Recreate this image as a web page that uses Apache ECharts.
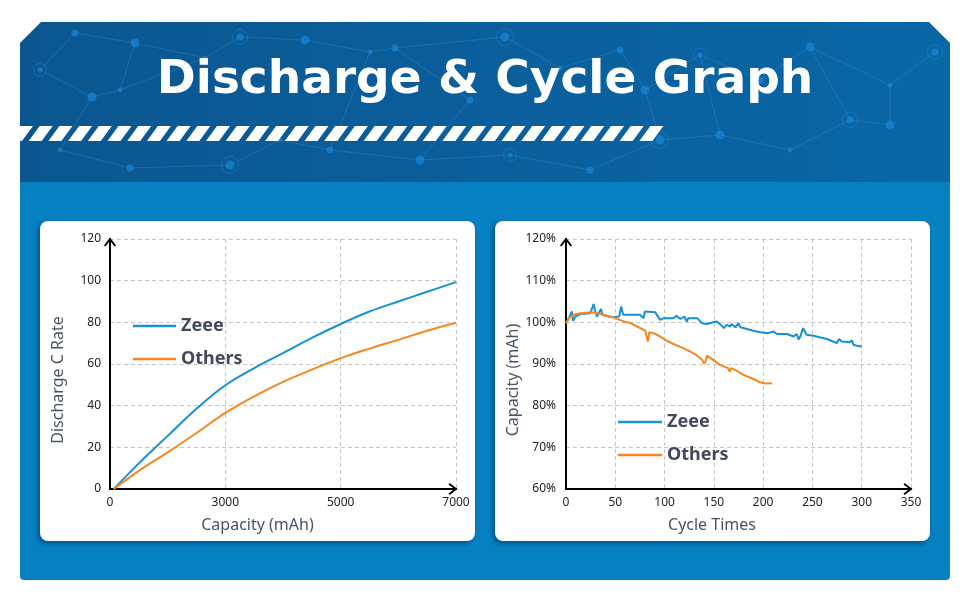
<!DOCTYPE html>
<html>
<head>
<meta charset="utf-8">
<script src="https://cdn.jsdelivr.net/npm/echarts@6/dist/echarts.min.js"></script>
<style>
html,body{margin:0;padding:0;background:#fff;}
#c{width:970px;height:600px;}
</style>
</head>
<body>
<div id="c"></div>
<script>
// ---------- data ----------
const titleText = 'Discharge & Cycle Graph';
const seriesNames = ['Zeee', 'Others'];

// Left chart: discharge C rate vs capacity (tick labels are equally spaced)
const capacityTickLabels = ['0', '3000', '5000', '7000'];
const dischargeCapacity = [100, 750, 1500, 2250, 3000, 3500, 4000, 4500, 5000, 5500, 6000, 6500, 7000];
const zeeeRate   = [0, 12.3, 25.5, 38.5, 49.8, 58, 65.2, 72.5, 79.2, 85.2, 90, 94.7, 99.3];
const othersRate = [0, 8.7, 17.6, 26.9, 36.5, 44.5, 51.4, 57.3, 62.8, 67.4, 71.6, 76, 79.8];

// Right chart: capacity retention vs cycles
const zeeeCycles = [0,2,4,6,7,9.5,14.5,24.7,28,29.5,31.4,33,35.5,37,43,48,54,56,58,75,78.7,80,90.5,95.6,97,99,109,112,116,120,122.6,124,133,138,143,149.3,153,158,160,163,166.6,168,172,175,177,183.5,190,197,205,210.5,214,224,231,234,236,238,240.5,242,244,251,264.5,271,274.7,277,279.6,288,290,291.6,295,300];
const zeeeCapacity = [100,100.5,100.1,102.6,100.4,101.4,102,102.2,104.4,102.8,101.4,101.8,103.2,101.8,101.4,101.2,101.4,103.8,101.8,101.8,101,102.6,102.4,100.6,100.2,101,101,101.6,100.8,101.4,100.2,101,101,99.8,99.6,100,100.2,99.2,98.6,99.4,99,99.6,98.8,99.8,98.8,98.4,98,97.6,97.4,97.8,97.2,97.2,96.6,97.2,95.9,96.8,98.6,98.6,97,96.8,96,95.4,95,96,95.4,95.2,95.7,94.6,94.4,94.2];
const othersCycles = [0,2.7,7.8,14.5,26,28,31.4,34.8,41.5,48,56.7,61.8,63.5,65,72,80.4,82,83,84.5,89,95.6,100.7,109,119,126,133,138,140,141.5,143,149.3,156,164.5,166,167.5,173,180,190,197,202,209];
const othersCapacity = [99.8,101,101.8,102.2,102.4,102.6,102.2,102,101.6,101.2,100.4,100,99.6,99.9,99,98,97.8,95.4,97.6,97.4,96.6,95.8,94.8,93.8,93,92,91,90.1,90.6,92,91,89.8,89,88.2,89,88.4,87.4,86.4,85.6,85.3,85.4];

// ---------- helpers ----------
function capToPos(c) { return c <= 3000 ? c / 3000 : 1 + (c - 3000) / 2000; }
function zip(xs, ys, fx) { return xs.map((x, i) => [fx ? fx(x) : x, ys[i]]); }

const BLUE = '#1a8fd3', ORANGE = '#f6861f';
const AXIS_TXT = '#4b5366';
const chevron = 'path://M0,8.4 L6.5,0 L13,8.4 L11.3,9.6 L6.5,3.3 L1.7,9.6 Z';

// ---------- decorative graphics ----------
const gfx = [];
gfx.push({type:'rect', z:-20, shape:{x:0,y:0,width:970,height:600}, style:{fill:'#ffffff'}});
gfx.push({type:'rect', z:-19, shape:{x:20,y:150,width:930,height:430,r:[0,0,4,4]}, style:{fill:'#0680c0'}});
gfx.push({type:'polygon', z:-18, shape:{points:[[20,43],[41,22],[929,22],[950,43],[950,182],[20,182]]},
  style:{fill:{type:'linear',x:0,y:0,x2:1,y2:0,colorStops:[{offset:0,color:'#0b5690'},{offset:1,color:'#0a67a6'}]}}});
// network lines & nodes
const nodes = [[40,70],[75,33],[135,43],[205,58],[240,37],[305,40],[370,52],[395,48],[505,37],[560,68],[620,50],[645,90],[700,55],[760,80],[810,47],[890,85],[935,52],[92,97],[60,150],[130,168],[230,165],[280,140],[330,150],[420,160],[510,155],[590,170],[720,135],[790,150],[850,120],[890,125],[120,90],[470,100],[660,140]];
const links = [[0,1],[1,2],[2,3],[3,4],[4,5],[5,6],[6,7],[7,8],[8,9],[9,10],[10,11],[11,12],[12,13],[13,14],[14,15],[15,16],[0,17],[17,18],[18,19],[19,20],[20,21],[21,22],[22,23],[23,24],[24,25],[25,32],[32,26],[26,27],[27,28],[28,29],[29,15],[2,30],[30,17],[31,7],[31,23],[12,26],[14,28],[11,32],[6,22],[3,30]];
links.forEach(l => {
  const a = nodes[l[0]], b = nodes[l[1]];
  gfx.push({type:'line', z:-17, shape:{x1:a[0],y1:a[1],x2:b[0],y2:b[1]}, style:{stroke:'rgba(90,170,235,0.22)', lineWidth:1}});
});
nodes.forEach((n, i) => {
  const r = 2.5 + (i % 3);
  if (i % 4 === 0) gfx.push({type:'circle', z:-17, shape:{cx:n[0],cy:n[1],r:r+4}, style:{fill:'none', stroke:'rgba(40,150,230,0.35)', lineWidth:1}});
  gfx.push({type:'circle', z:-17, shape:{cx:n[0],cy:n[1],r:r}, style:{fill:'rgba(25,140,225,0.6)'}});
});
// stripes
for (let i = 0; i < 34; i++) {
  const x0 = 9 + i * 19.7;
  if (x0 + 24 > 669) break;
  const pts = [[Math.max(x0, 20), 141], [x0 + 11, 126], [x0 + 24, 126], [x0 + 13, 141]];
  if (x0 < 20) pts.splice(1, 0, [20, 141 - 15 * (20 - x0) / 11]);
  gfx.push({type:'polygon', z:-16, shape:{points:pts}, style:{fill:'#ffffff'}});
}
// cards
[[40,221],[495,221]].forEach(p => {
  gfx.push({type:'rect', z:-15, shape:{x:p[0],y:p[1],width:435,height:320,r:8},
    style:{fill:'#ffffff', shadowBlur:5, shadowColor:'rgba(0,35,80,0.55)', shadowOffsetX:-2, shadowOffsetY:2}});
});

// ---------- axes ----------
function axisCommon() {
  return {
    z: 5,
    axisLine: {show:true, symbol:['none', chevron], symbolSize:[13, 9], symbolOffset:[0, -3], lineStyle:{color:'#000', width:2}},
    axisTick: {show:false},
    splitLine: {show:true, lineStyle:{color:'#c6c6c6', type:[4,3], width:1}},
    axisLabel: {color:'#222', fontFamily:'Noto Sans', fontSize:12},
    nameTextStyle: {color:AXIS_TXT, fontFamily:'Noto Sans', fontSize:16}
  };
}

const legendText = {color:'#414a5b', fontFamily:'Noto Sans', fontWeight:'bold', fontSize:18, lineHeight:20};

const option = {
  animation: false,
  graphic: gfx,
  title: {
    text: titleText, left: 'center', top: 57, padding: 0,
    textStyle: {color:'#ffffff', fontFamily:'DejaVu Sans', fontWeight:'bold', fontSize:47}
  },
  legend: [
    {data: seriesNames, orient:'vertical', left:133, top:316, padding:0, icon:'rect', itemWidth:43, itemHeight:2.5, itemGap:13,
     selectedMode:false, z:6, textStyle:legendText},
    {data: seriesNames, orient:'vertical', left:618, top:412, padding:0, icon:'rect', itemWidth:44, itemHeight:2.5, itemGap:13,
     selectedMode:false, z:6, textStyle:legendText}
  ],
  grid: [
    {left:110, top:239, width:346, height:250},
    {left:566, top:239, width:345, height:250}
  ],
  xAxis: [
    Object.assign(axisCommon(), {
      type:'value', gridIndex:0, min:0, max:3, interval:1,
      name:'Capacity (mAh)', nameLocation:'middle', nameGap:28,
      axisLabel:{color:'#222', fontFamily:'Noto Sans', fontSize:12, margin:8,
        formatter: v => capacityTickLabels[Math.round(v)] || ''}
    }),
    Object.assign(axisCommon(), {
      type:'value', gridIndex:1, min:0, max:350, interval:50,
      name:'Cycle Times', nameLocation:'middle', nameGap:28,
      axisLabel:{color:'#222', fontFamily:'Noto Sans', fontSize:12, margin:8}
    })
  ],
  yAxis: [
    Object.assign(axisCommon(), {
      type:'value', gridIndex:0, min:0, max:120, interval:20,
      name:'Discharge C Rate', nameLocation:'middle', nameGap:44,
      axisLabel:{color:'#222', fontFamily:'Noto Sans', fontSize:12, margin:9}
    }),
    Object.assign(axisCommon(), {
      type:'value', gridIndex:1, min:60, max:120, interval:10,
      name:'Capacity (mAh)', nameLocation:'middle', nameGap:42,
      axisLabel:{color:'#222', fontFamily:'Noto Sans', fontSize:12, margin:10, formatter:'{value}%'}
    })
  ],
  series: [
    {name:'Zeee', type:'line', xAxisIndex:0, yAxisIndex:0, smooth:0.4, showSymbol:false, z:6,
     lineStyle:{color:BLUE, width:2}, itemStyle:{color:BLUE}, data: zip(dischargeCapacity, zeeeRate, capToPos)},
    {name:'Others', type:'line', xAxisIndex:0, yAxisIndex:0, smooth:0.4, showSymbol:false, z:6,
     lineStyle:{color:ORANGE, width:2}, itemStyle:{color:ORANGE}, data: zip(dischargeCapacity, othersRate, capToPos)},
    {name:'Zeee', type:'line', xAxisIndex:1, yAxisIndex:1, showSymbol:false, z:6,
     lineStyle:{color:BLUE, width:2}, itemStyle:{color:BLUE}, data: zip(zeeeCycles, zeeeCapacity)},
    {name:'Others', type:'line', xAxisIndex:1, yAxisIndex:1, showSymbol:false, z:7,
     lineStyle:{color:ORANGE, width:2}, itemStyle:{color:ORANGE}, data: zip(othersCycles, othersCapacity)}
  ]
};

// shift axis names (they sit off-centre in the reference)
option.xAxis[0].nameTextStyle = Object.assign({}, option.xAxis[0].nameTextStyle, {padding:[0,51,0,0]});
option.xAxis[1].nameTextStyle = Object.assign({}, option.xAxis[1].nameTextStyle, {padding:[0,53,0,0]});
option.yAxis[0].nameTextStyle = Object.assign({}, option.yAxis[0].nameTextStyle, {padding:[0,32,0,0]});
option.yAxis[1].nameTextStyle = Object.assign({}, option.yAxis[1].nameTextStyle, {padding:[0,32,0,0]});

const chart = echarts.init(document.getElementById('c'), null, {renderer:'canvas'});
chart.setOption(option);
</script>
</body>
</html>
